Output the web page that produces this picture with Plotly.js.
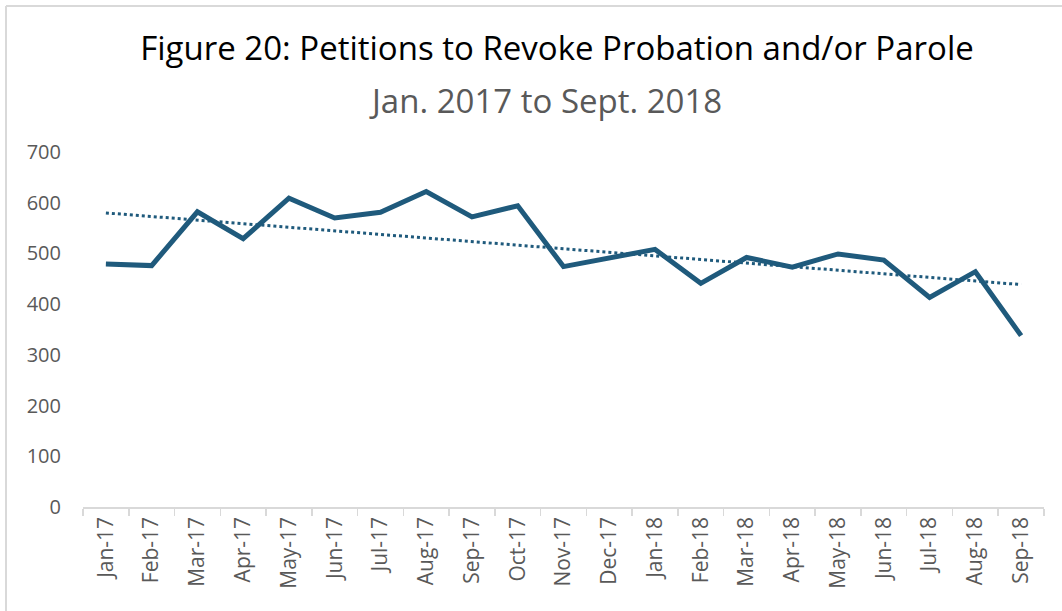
<!DOCTYPE html>
<html>
<head>
<meta charset="utf-8">
<script src="https://cdn.plot.ly/plotly-3.0.1.min.js"></script>
<style>html,body{margin:0;padding:0;background:#fff;}#chart{width:1062px;height:611px;}</style>
</head>
<body>
<div id="chart"></div>
<script>
const months = ["Jan-17","Feb-17","Mar-17","Apr-17","May-17","Jun-17","Jul-17","Aug-17","Sep-17","Oct-17","Nov-17","Dec-17","Jan-18","Feb-18","Mar-18","Apr-18","May-18","Jun-18","Jul-18","Aug-18","Sep-18"];
const petitions = [479,476,582,529,609,570,581,622,572,594,474,491,508,441,492,473,499,487,413,464,338];
const yTicks = [0,100,200,300,400,500,600,700];

// Linear trendline (least squares) fitted to the series
const n = petitions.length;
const idx = petitions.map((_, i) => i);
const mx = idx.reduce((a, b) => a + b, 0) / n;
const my = petitions.reduce((a, b) => a + b, 0) / n;
let sxy = 0, sxx = 0;
idx.forEach(i => { sxy += (i - mx) * (petitions[i] - my); sxx += (i - mx) * (i - mx); });
const slope = sxy / sxx, intercept = my - slope * mx;
const trend = idx.map(i => intercept + slope * i);

const lineColor = "#1f5a7c";
const data = [
  {x: months, y: petitions, type: "scatter", mode: "lines", line: {color: lineColor, width: 5}, hoverinfo: "x+y"},
  {x: months, y: trend, type: "scatter", mode: "lines", line: {color: lineColor, width: 3, dash: "dot"}, hoverinfo: "skip"}
];

const W = 1062, H = 611, L = 83, R = 18, T = 152, B = 104;
const pw = W - L - R, ph = H - T - B;
const px = v => (v - L) / pw;
const py = v => (H - B - v) / ph;

const layout = {
  width: W, height: H,
  margin: {l: L, r: R, t: T, b: B, pad: 0},
  paper_bgcolor: "#ffffff", plot_bgcolor: "#ffffff",
  showlegend: false,
  font: {family: "Open Sans, sans-serif", color: "#595959"},
  title: {text: "Figure 20: Petitions to Revoke Probation and/or Parole", font: {family: "Open Sans, sans-serif", size: 33, color: "#000000"}, xref: "paper", x: px(557), xanchor: "center", yref: "container", y: 1 - 48 / H, yanchor: "middle"},
  annotations: [
    {text: "Jan. 2017 to Sept. 2018", xref: "paper", yref: "paper", x: px(545), y: py(100), xanchor: "center", yanchor: "middle", showarrow: false, font: {family: "Open Sans, sans-serif", size: 33, color: "#595959"}}
  ],
  xaxis: {
    type: "category", tickmode: "array", tickvals: months, ticktext: months,
    tickangle: -90, tickfont: {size: 21, color: "#595959"},
    showline: true, linecolor: "#d9d9d9", linewidth: 1.5,
    ticks: "outside", tickson: "boundaries", ticklen: 7, tickcolor: "#d9d9d9", tickwidth: 1.5,
    showgrid: false, zeroline: false, range: [-0.5, 20.5], fixedrange: true
  },
  yaxis: {
    range: [0, 700], tickmode: "array", tickvals: yTicks, ticktext: yTicks.map(String),
    tickfont: {size: 20, color: "#595959"}, showgrid: false, zeroline: false, showline: false,
    ticks: "", ticklabelstandoff: 21, fixedrange: true
  },
  shapes: [
    {type: "line", xref: "paper", yref: "paper", x0: px(6), x1: px(6), y0: py(6), y1: py(640), line: {color: "#d9d9d9", width: 2}},
    {type: "line", xref: "paper", yref: "paper", x0: px(6), x1: px(1080), y0: py(6), y1: py(6), line: {color: "#d9d9d9", width: 2}}
  ]
};

Plotly.newPlot("chart", data, layout, {displayModeBar: false, staticPlot: true});
</script>
</body>
</html>
